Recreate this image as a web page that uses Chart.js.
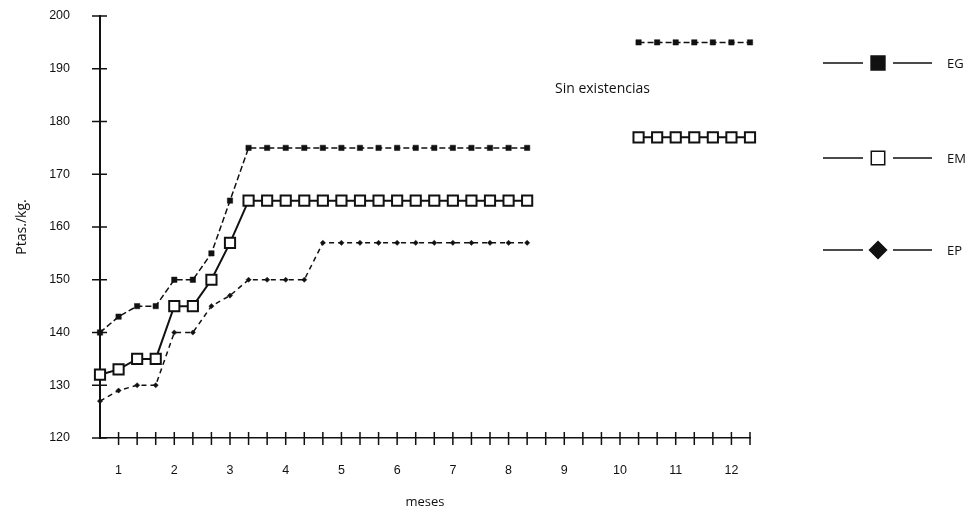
<!DOCTYPE html>
<html>
<head>
<meta charset="utf-8">
<script src="https://cdn.jsdelivr.net/npm/chart.js@4.4.1/dist/chart.umd.min.js"></script>
<style>
  html, body { margin: 0; padding: 0; background: #fff; }
  #wrap { width: 969px; height: 511px; }
</style>
</head>
<body>
<div id="wrap"><canvas id="chartPrecios"></canvas></div>
<script>
// meses, cada uno en tres decenas
const months = [1, 2, 3, 4, 5, 6, 7, 8, 9, 10, 11, 12];
const periods = months.flatMap(m => [m + '.1', m + '.2', m + '.3']);

// Ptas./kg. por decena (null = sin existencias)
const eg = [140, 143, 145, 145, 150, 150, 155, 165, 175, 175, 175, 175,
            175, 175, 175, 175, 175, 175, 175, 175, 175, 175, 175, 175,
            null, null, null, null, null, 195, 195, 195, 195, 195, 195, 195];
const em = [132, 133, 135, 135, 145, 145, 150, 157, 165, 165, 165, 165,
            165, 165, 165, 165, 165, 165, 165, 165, 165, 165, 165, 165,
            null, null, null, null, null, 177, 177, 177, 177, 177, 177, 177];
const ep = [127, 129, 130, 130, 140, 140, 145, 147, 150, 150, 150, 150,
            157, 157, 157, 157, 157, 157, 157, 157, 157, 157, 157, 157,
            null, null, null, null, null, null, null, null, null, null, null, null];

const yMin = 120, yMax = 200, yStep = 10;

const tickFont = { family: 'Liberation Sans', size: 12.5 };
const textFont = { family: 'Open Sans', size: 13 };

const extras = {
    id: 'extras',
    afterDraw(chart) {
        const { ctx, chartArea, scales: { x, y } } = chart;
        ctx.save();
        // marcas de escala que cruzan los ejes
        ctx.strokeStyle = '#111';
        ctx.lineWidth = 1.5;
        ctx.beginPath();
        x.ticks.forEach((t, i) => {
            if (i === 0) return;
            const px = x.getPixelForTick(i);
            ctx.moveTo(px, chartArea.bottom - 6);
            ctx.lineTo(px, chartArea.bottom + 7);
        });
        y.ticks.forEach((t, i) => {
            const py = y.getPixelForTick(i);
            ctx.moveTo(chartArea.left - 8, py);
            ctx.lineTo(chartArea.left + 7, py);
        });
        ctx.stroke();

        // nota
        ctx.fillStyle = '#111';
        ctx.font = '14px "Open Sans"';
        ctx.textBaseline = 'middle';
        ctx.textAlign = 'left';
        ctx.fillText('Sin existencias', 555, 89);

        // leyenda
        ctx.font = '13px "Open Sans"';
        const rows = [63, 158, 250];
        chart.data.datasets.forEach((ds, i) => {
            const ly = rows[i];
            ctx.strokeStyle = '#111';
            ctx.lineWidth = 1.5;
            ctx.setLineDash([]);
            ctx.beginPath();
            ctx.moveTo(823, ly); ctx.lineTo(863, ly);
            ctx.moveTo(893, ly); ctx.lineTo(932, ly);
            ctx.stroke();
            ctx.fillStyle = ds.pointBackgroundColor;
            ctx.strokeStyle = '#111';
            Chart.helpers.drawPoint(ctx, {
                pointStyle: ds.pointStyle,
                radius: ds.legendRadius,
                borderWidth: 1.5,
                rotation: 0
            }, 878, ly);
            ctx.fillStyle = '#111';
            ctx.fillText(ds.label, 947, ly + 1);
        });
        ctx.restore();
    }
};

new Chart(document.getElementById('chartPrecios'), {
    type: 'line',
    data: {
        labels: periods,
        datasets: [{
            label: 'EG',
            data: eg,
            borderColor: '#111',
            borderWidth: 1.5,
            borderDash: [6, 3],
            pointStyle: 'rect',
            pointRadius: 3.8,
            pointBorderWidth: 0.5,
            pointBackgroundColor: '#111',
            pointBorderColor: '#111',
            legendRadius: 9.8
        }, {
            label: 'EM',
            data: em,
            borderColor: '#111',
            borderWidth: 2,
            pointStyle: 'rect',
            pointRadius: 7.2,
            pointBorderWidth: 2,
            pointBackgroundColor: '#fff',
            pointBorderColor: '#111',
            legendRadius: 9.5
        }, {
            label: 'EP',
            data: ep,
            borderColor: '#111',
            borderWidth: 1.5,
            borderDash: [5, 4],
            pointStyle: 'rectRot',
            pointRadius: 2.6,
            pointBorderWidth: 0.5,
            pointBackgroundColor: '#111',
            pointBorderColor: '#111',
            legendRadius: 8.5
        }]
    },
    options: {
        responsive: true,
        maintainAspectRatio: false,
        animation: false,
        spanGaps: false,
        elements: { line: { tension: 0 } },
        layout: { padding: { top: 16, right: 219, left: 0, bottom: 0 } },
        plugins: { legend: { display: false }, tooltip: { enabled: false } },
        scales: {
            x: {
                grid: { display: false },
                border: { display: true, color: '#111', width: 1.5 },
                ticks: {
                    autoSkip: false,
                    maxRotation: 0,
                    padding: 17,
                    color: '#111',
                    font: tickFont,
                    callback: (v, i) => (i % 3 === 1 ? String(months[(i - 1) / 3]) : '')
                },
                title: { display: true, text: 'meses', color: '#111', font: textFont, padding: { top: 0, bottom: 1 } },
                afterFit: s => { s.height = 73; s.paddingLeft = 0; s.paddingRight = 0; }
            },
            y: {
                min: yMin,
                max: yMax,
                grid: { display: false },
                border: { display: true, color: '#111', width: 2 },
                ticks: { stepSize: yStep, padding: 22, color: '#111', font: tickFont },
                title: { display: true, text: 'Ptas./kg.', color: '#111', font: { family: 'Open Sans', size: 14 }, padding: { top: 14, bottom: 0 } },
                afterFit: s => { s.width = 100; s.paddingTop = 0; s.paddingBottom = 0; }
            }
        }
    },
    plugins: [extras]
});
</script>
</body>
</html>
